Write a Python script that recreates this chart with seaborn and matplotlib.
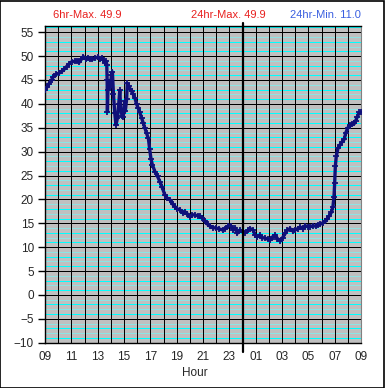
import matplotlib
matplotlib.use("Agg")
import matplotlib.pyplot as plt
import numpy as np
import pandas as pd
import seaborn as sns

# hours since 09:00 and temperature
hours = [0.00, 0.15, 0.30, 0.50, 0.63, 0.85, 1.05, 1.27, 1.45, 1.64, 1.85, 2.02,
         2.25, 2.45, 2.60, 2.75, 2.91, 3.10, 3.25, 3.42, 3.60, 3.80, 4.05, 4.20,
         4.35, 4.43, 4.55, 4.65, 4.69, 4.72, 4.74, 4.78, 4.85, 4.95, 5.05, 5.12,
         5.20, 5.30, 5.39, 5.50, 5.60, 5.68, 5.75, 5.85, 5.94, 6.00, 6.05, 6.10,
         6.20, 6.25, 6.35, 6.45, 6.58, 6.70, 6.83, 6.95, 7.08, 7.20, 7.34, 7.45,
         7.59, 7.72, 7.85, 7.95, 8.05, 8.15, 8.35, 8.55, 8.73, 8.90, 9.11, 9.30,
         9.49, 9.70, 9.87, 10.05, 10.25, 10.45, 10.63, 10.80, 11.00, 11.20, 11.40,
         11.60, 11.77, 11.95, 12.15, 12.35, 12.53, 12.75, 13.00, 13.25, 13.50,
         13.70, 13.90, 14.10, 14.30, 14.45, 14.60, 14.80, 15.00, 15.20, 15.40,
         15.57, 15.80, 15.95, 16.10, 16.30, 16.50, 16.70, 16.90, 17.10, 17.30,
         17.50, 17.65, 17.87, 18.05, 18.25, 18.40, 18.60, 18.80, 19.00, 19.20,
         19.40, 19.60, 19.75, 19.95, 20.15, 20.35, 20.55, 20.70, 20.90, 21.10,
         21.30, 21.45, 21.60, 21.75, 21.87, 21.95, 22.00, 22.05, 22.12, 22.25,
         22.40, 22.55, 22.73, 22.85, 23.00, 23.20, 23.35, 23.50, 23.60, 23.72,
         23.86, 24.00]
temps = [43.0, 43.5, 44.2, 45.0, 45.7, 46.2, 46.4, 46.8, 47.2, 47.8, 48.4, 48.8,
         48.9, 49.0, 48.7, 49.3, 49.9, 49.4, 49.5, 49.4, 49.3, 49.6, 49.8, 49.4,
         49.5, 49.2, 48.6, 48.9, 48.2, 45.0, 38.4, 43.0, 44.5, 43.5, 46.0, 46.7,
         42.0, 38.0, 35.6, 37.0, 40.0, 42.8, 39.0, 37.5, 37.3, 39.0, 40.5, 38.5,
         41.0, 44.3, 43.8, 43.2, 42.6, 42.0, 41.2, 40.0, 39.1, 38.2, 37.0, 36.0,
         34.9, 33.8, 32.8, 30.5, 28.5, 27.3, 25.8, 24.8, 23.7, 22.5, 20.9, 20.2,
         19.9, 19.0, 18.5, 18.0, 17.8, 17.2, 17.4, 17.0, 16.4, 16.8, 16.7,
         16.6, 16.5, 16.2, 15.5, 14.8, 14.4, 14.1, 14.0, 13.8, 13.6,
         13.9, 14.4, 14.5, 13.6, 14.0, 12.9, 13.6, 13.2, 13.0, 13.5,
         13.9, 13.6, 12.6, 12.2, 12.5, 12.0, 11.9, 11.7, 11.5, 12.2,
         12.5, 11.8, 11.3, 12.0, 12.9, 13.5, 13.9, 13.4, 13.6, 13.9,
         14.2, 13.9, 14.5, 14.3, 14.3, 14.5, 14.4, 14.6, 14.8, 15.1,
         15.4, 16.0, 16.6, 17.3, 18.5, 20.6, 23.4, 26.9, 29.0, 30.7,
         31.4, 32.0, 32.6, 34.0, 35.0, 35.5, 35.7, 35.9, 36.5, 37.3,
         38.2, 38.3]

hour_labels = ["09", "11", "13", "15", "17", "19", "21", "23",
               "01", "03", "05", "07", "09"]
y_ticks = [-10, -5, 0, 5, 10, 15, 20, 25, 30, 35, 40, 45, 50, 55]
header = [("6hr-Max. 49.9", "#e8201e"), ("24hr-Max. 49.9", "#e8201e"),
          ("24hr-Min. 11.0", "#3a5fe0")]

df = pd.DataFrame({"hour": hours, "temp": temps})

sns.set_style("white", {"axes.facecolor": "#c0c0c0"})
plt.rcParams["font.family"] = ["Liberation Sans", "DejaVu Sans"]

fig = plt.figure(figsize=(3.85, 3.88), dpi=100)
ax = fig.add_axes([45 / 385, 1 - 342.7 / 388, 316 / 385, 316.7 / 388])

# minor cyan lines every unit, alternating shades
for v in range(-10, 57):
    if v % 5 == 0:
        continue
    c = "#00ffff" if v % 5 in (1, 3) else "#8fe4e4"
    ax.axhline(v, color=c, lw=0.72, zorder=1, antialiased=False)
for v in y_ticks:
    ax.axhline(v, color="black", lw=0.72, zorder=2, antialiased=False)
for h in range(25):
    ax.axvline(h, color="black", lw=0.72, zorder=2, antialiased=False)

sns.lineplot(data=df, x="hour", y="temp", ax=ax, color="#10107a", lw=2.4,
             marker="+", markersize=5, markeredgewidth=1.3,
             markeredgecolor="#10107a", zorder=4)

# midnight marker
ax.axvline(15, ymin=-0.03, ymax=1.008, color="black", lw=1.6,
           clip_on=False, zorder=5)

ax.set_xlim(0, 24)
ax.set_ylim(-10, 56.3)
ax.set_xticks(range(0, 25, 2))
ax.set_xticklabels(hour_labels)
ax.set_yticks(y_ticks)
ax.tick_params(axis="x", length=0, pad=6, labelsize=8.5)
ax.tick_params(axis="y", length=5, width=1, color="black", pad=3, labelsize=8.5,
               left=True)
ax.set_xlabel("")
ax.set_ylabel("")
for s in ["left", "bottom", "top"]:
    ax.spines[s].set_color("black")
    ax.spines[s].set_linewidth(1)
ax.spines["right"].set_color("#808080")

fig.text(195 / 385, 1 - 373 / 388, "Hour", ha="center", va="center", fontsize=8.5)
xs = [87 / 385, 228 / 385, 325 / 385]
for (txt, col), x in zip(header, xs):
    fig.text(x, 1 - 15 / 388, txt, ha="center", va="center", color=col,
             fontsize=8)

fig.patches.append(plt.Rectangle((0.001, 0.001), 0.997, 0.997,
                                 transform=fig.transFigure, fill=False,
                                 edgecolor="black", lw=1.2))

fig.savefig("out.png", dpi=100)
